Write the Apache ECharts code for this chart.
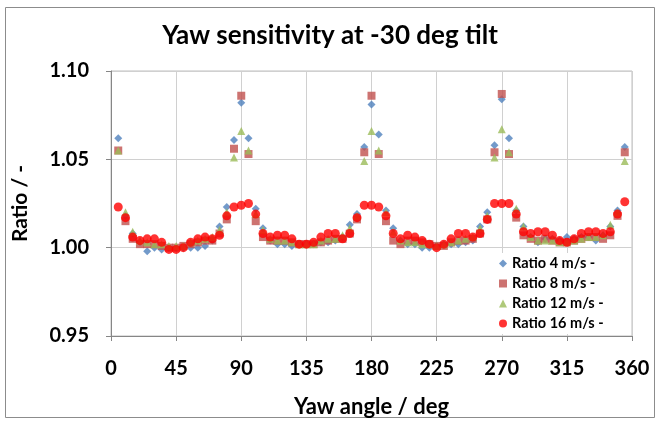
<!DOCTYPE html>
<html><head><meta charset="utf-8">
<script src="https://cdn.jsdelivr.net/npm/echarts@6/dist/echarts.min.js"></script>
<style>html,body{margin:0;padding:0;background:#fff}#c{width:660px;height:423px}</style>
</head><body><div id="c"></div>
<script>
const yawAngles = [5,10,15,20,25,30,35,40,45,50,55,60,65,70,75,80,85,90,95,100,105,110,115,120,125,130,135,140,145,150,155,160,165,170,175,180,185,190,195,200,205,210,215,220,225,230,235,240,245,250,255,260,265,270,275,280,285,290,295,300,305,310,315,320,325,330,335,340,345,350,355];
const ratio4 = [1.062,1.018,1.008,1.003,0.998,1.000,0.999,1.000,1.000,1.000,1.000,1.000,1.001,1.004,1.012,1.023,1.061,1.082,1.062,1.022,1.011,1.004,1.002,1.002,1.001,1.002,1.002,1.002,1.003,1.003,1.004,1.006,1.013,1.019,1.057,1.081,1.064,1.021,1.011,1.004,1.002,1.002,1.000,1.000,1.001,1.002,1.002,1.002,1.003,1.004,1.012,1.020,1.058,1.084,1.062,1.021,1.012,1.006,1.003,1.005,1.005,1.004,1.006,1.005,1.006,1.006,1.004,1.007,1.012,1.021,1.057];
const ratio8 = [1.055,1.015,1.005,1.002,1.002,1.002,1.001,1.000,1.000,1.001,1.002,1.003,1.004,1.004,1.008,1.016,1.056,1.086,1.053,1.015,1.006,1.004,1.004,1.004,1.003,1.002,1.002,1.002,1.003,1.004,1.005,1.005,1.008,1.016,1.054,1.086,1.053,1.015,1.004,1.002,1.004,1.004,1.003,1.002,1.001,1.001,1.003,1.004,1.004,1.005,1.008,1.016,1.054,1.087,1.053,1.017,1.007,1.005,1.004,1.005,1.004,1.003,1.003,1.004,1.005,1.006,1.006,1.005,1.007,1.018,1.054];
const ratio12 = [1.055,1.020,1.009,1.004,1.003,1.002,1.002,1.001,1.001,1.001,1.003,1.004,1.005,1.006,1.010,1.020,1.051,1.066,1.055,1.019,1.010,1.005,1.004,1.004,1.003,1.002,1.002,1.002,1.004,1.005,1.005,1.007,1.011,1.018,1.049,1.066,1.055,1.020,1.009,1.004,1.003,1.003,1.002,1.002,1.001,1.002,1.003,1.004,1.005,1.006,1.011,1.018,1.051,1.067,1.054,1.022,1.012,1.006,1.004,1.004,1.004,1.003,1.003,1.004,1.005,1.006,1.006,1.007,1.013,1.020,1.049];
const ratio16 = [1.023,1.017,1.006,1.004,1.005,1.005,1.003,0.999,0.999,1.000,1.003,1.005,1.006,1.005,1.007,1.018,1.023,1.024,1.025,1.019,1.008,1.006,1.007,1.007,1.005,1.002,1.002,1.003,1.006,1.008,1.008,1.005,1.008,1.017,1.024,1.024,1.023,1.018,1.008,1.005,1.007,1.006,1.004,1.002,1.000,1.002,1.005,1.008,1.008,1.006,1.008,1.016,1.025,1.025,1.025,1.019,1.009,1.008,1.009,1.009,1.007,1.004,1.003,1.005,1.008,1.009,1.009,1.008,1.009,1.019,1.026];
const seriesNames = ['Ratio 4 m/s -','Ratio 8 m/s -','Ratio 12 m/s -','Ratio 16 m/s -'];
const xTicks = [0,45,90,135,180,225,270,315,360];
const yTicks = [0.95,1.00,1.05,1.10];

const font = 'Lato, "Open Sans", sans-serif';
const pair = arr => yawAngles.map((x,i)=>[x,arr[i]]);
const chart = echarts.init(document.getElementById('c'), null, {renderer:'canvas'});
chart.setOption({
  animation:false,
  backgroundColor:'#fff',
  title:{text:'Yaw sensitivity at -30 deg tilt',left:'center',top:18,
    textStyle:{fontFamily:font,fontWeight:'bold',fontSize:26,color:'#000'}},
  graphic:[{type:'rect',shape:{x:5.5,y:7.5,width:649,height:410},style:{fill:'none',stroke:'#8c8c8c',lineWidth:1},silent:true,z:-1}],
  grid:{left:111,right:28,top:71,bottom:87,show:true,borderColor:'#bfbfbf',borderWidth:1},
  legend:{
    orient:'vertical',left:495,top:253,itemGap:5,itemWidth:8,itemHeight:8,
    backgroundColor:'#fff',padding:[3,6,3,4],
    textStyle:{fontFamily:font,fontWeight:'bold',fontSize:14.5,color:'#000'},
    data:seriesNames
  },
  xAxis:{type:'value',min:xTicks[0],max:xTicks[xTicks.length-1],interval:45,
    axisLine:{show:true,lineStyle:{color:'#868686'}},
    axisTick:{show:true,length:5,lineStyle:{color:'#868686'}},
    axisLabel:{fontFamily:font,fontWeight:'bold',fontSize:20,color:'#000',margin:23},
    splitLine:{show:true,lineStyle:{color:'#d0d0d0'}},
    name:'Yaw angle / deg',nameLocation:'middle',nameGap:60,
    nameTextStyle:{fontFamily:font,fontWeight:'bold',fontSize:22,color:'#000'}},
  yAxis:{type:'value',min:yTicks[0],max:yTicks[yTicks.length-1],interval:0.05,
    axisLine:{show:true,lineStyle:{color:'#868686'}},
    axisTick:{show:true,length:5,lineStyle:{color:'#868686'}},
    axisLabel:{fontFamily:font,fontWeight:'bold',fontSize:20,color:'#000',margin:22,formatter:v=>v.toFixed(2)},
    splitLine:{show:true,lineStyle:{color:'#d0d0d0'}},
    name:'Ratio / -',nameLocation:'middle',nameGap:80,nameRotate:90,
    nameTextStyle:{fontFamily:font,fontWeight:'bold',fontSize:21,color:'#000'}},
  series:[
    {name:seriesNames[0],type:'scatter',symbol:'diamond',symbolSize:8,data:pair(ratio4),itemStyle:{color:'#4F81BD'}},
    {name:seriesNames[1],type:'scatter',symbol:'rect',symbolSize:8,data:pair(ratio8),itemStyle:{color:'#C0504D'}},
    {name:seriesNames[2],type:'scatter',symbol:'triangle',symbolSize:8,data:pair(ratio12),itemStyle:{color:'#9BBB59'}},
    {name:seriesNames[3],type:'scatter',symbol:'circle',symbolSize:9,data:pair(ratio16),itemStyle:{color:'#FF0000'}}
  ]
});
</script></body></html>
